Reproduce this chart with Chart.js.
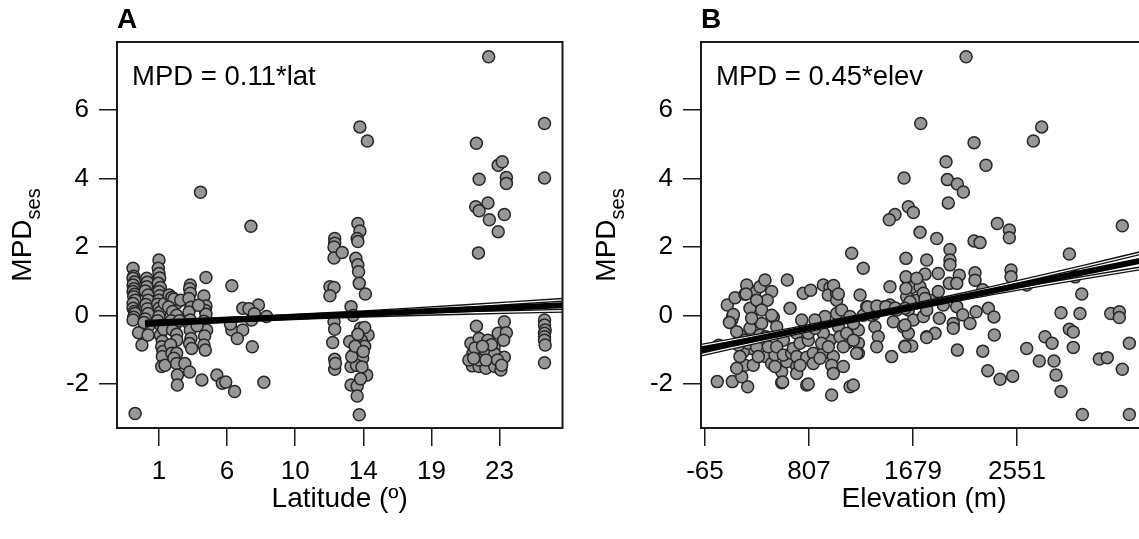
<!DOCTYPE html>
<html>
<head>
<meta charset="utf-8">
<script src="https://cdn.jsdelivr.net/npm/chart.js@4.4.1/dist/chart.umd.min.js"></script>
<style>
  html, body { margin: 0; padding: 0; background: #fff; }
  #stage { position: relative; width: 1139px; height: 539px; overflow: hidden; }
  #stage canvas { position: absolute; top: 0; }
</style>
</head>
<body>
<div id="stage">
  <canvas id="chartA" width="570" height="539" style="left:0"></canvas>
  <canvas id="chartB" width="580" height="539" style="left:580px"></canvas>
</div>
<script>
// tick labels
const mpdTicks = [-2, 0, 2, 4, 6];
const latTicks = [1, 6, 10, 14, 19, 23];     // drawn at equal spacing (positions 0..5)
const elevTicks = [-65, 807, 1679, 2551];

// panel A: [latitude position, MPDses]
const latPoints = [
  [-0.38,1.38],[-0.37,1.15],[-0.38,1.09],[-0.36,0.98],[-0.38,0.89],[-0.37,0.78],[-0.38,0.7],[-0.36,0.62],
  [-0.37,0.55],[-0.35,0.45],[-0.38,0.35],[-0.38,0.21],[-0.36,0.12],[-0.35,0.06],[-0.37,-0.05],[-0.38,-0.13],
  [-0.35,-2.86],[-0.3,-0.5],[-0.25,-0.86],
  [-0.18,1.09],[-0.17,0.97],[-0.18,0.84],[-0.2,0.72],[-0.16,0.6],[-0.16,0.45],[-0.19,0.32],[-0.17,0.2],
  [-0.16,0.06],[-0.2,-0.1],[-0.15,-0.3],[-0.16,-0.57],[-0.22,-0.2],
  [0.0,1.62],[-0.01,1.38],[0.0,1.23],[0.01,1.1],[-0.01,0.94],[0.02,0.82],[0.0,0.7],[0.01,0.58],[0.0,0.45],
  [-0.02,0.33],[0.0,0.21],[0.02,0.1],[0.0,-0.03],[-0.02,-0.15],[0.03,-0.3],[0.02,-0.57],[0.05,-0.75],
  [0.04,-0.91],[0.06,-1.05],[0.05,-1.2],[0.04,-1.49],[0.09,-1.45],[0.07,-0.4],[0.08,0.35],
  [0.15,0.6],[0.19,0.53],[0.26,0.36],[0.22,0.48],[0.14,0.25],[0.2,0.12],[0.26,0.01],[0.18,-0.15],
  [0.24,-0.27],[0.2,-0.42],[0.26,-0.55],[0.26,-0.72],[0.17,-0.85],[0.19,-1.1],[0.26,-1.1],[0.22,-1.25],
  [0.26,-1.4],[0.27,-1.74],[0.27,-2.03],[0.38,-1.4],[0.45,-1.65],[0.63,-1.88],[0.3,-0.15],[0.32,0.45],
  [0.46,0.89],[0.45,0.78],[0.46,0.65],[0.44,0.5],[0.47,0.24],[0.44,0.1],[0.46,-0.13],[0.45,-0.27],
  [0.46,-0.42],[0.47,-0.67],[0.45,-0.82],[0.48,-0.96],[0.69,1.11],[0.66,0.57],[0.69,0.28],[0.68,0.15],
  [0.69,0.04],[0.66,-0.17],[0.7,-0.42],[0.67,-0.6],[0.66,-0.86],[0.68,-1.01],[0.61,3.6],[0.56,-0.3],[0.58,0.3],
  [1.07,0.87],[1.23,0.21],[1.46,0.31],[1.58,-0.03],[1.07,-0.42],[1.23,-0.42],[1.15,-0.67],[1.36,-0.13],
  [1.37,-0.91],[1.05,-0.25],[1.32,0.2],[0.85,-1.74],[0.93,-1.98],[0.98,-1.94],[1.11,-2.22],[1.54,-1.95],
  [1.35,2.61],[1.4,0.05],
  [2.58,2.25],[2.58,2.11],[2.57,2.0],[2.57,1.68],[2.69,1.84],[2.51,0.84],[2.57,0.82],[2.51,0.58],
  [2.57,-0.18],[2.58,-0.4],[2.55,-0.79],[2.58,-1.28],[2.58,-1.57],[2.59,-1.4],
  [2.95,5.51],[3.06,5.1],[2.92,2.69],[2.95,2.47],[2.91,2.25],[2.92,2.16],[2.89,1.67],[2.92,1.48],
  [2.93,1.28],[2.94,0.94],[3.03,0.63],[2.82,0.26],[2.85,0.0],[2.96,-0.37],[3.07,-0.57],[2.8,-0.76],
  [2.97,-0.72],[3.02,-0.9],[2.87,-1.1],[2.99,-1.25],[2.82,-1.49],[2.9,-1.45],[3.05,-1.74],[2.82,-2.03],
  [2.91,-2.06],[2.91,-2.35],[2.94,-2.9],[2.83,-1.2],[2.98,-1.5],[3.02,-0.35],[2.92,-0.55],[2.88,-0.9],
  [3.0,-1.05],[2.96,-1.85],
  [4.84,7.56],[4.66,5.03],[4.7,3.98],[4.65,3.18],[4.7,3.06],[4.83,3.29],[4.85,2.8],[4.98,4.39],
  [5.04,4.49],[5.1,4.03],[5.1,3.86],[5.07,2.95],[4.98,2.45],[4.69,1.83],[5.66,5.61],[5.66,4.02],
  [4.66,-0.31],[5.07,-0.18],[4.98,-0.52],[5.1,-0.5],[4.58,-0.81],[4.7,-0.67],[4.83,-0.72],[4.92,-0.92],
  [5.06,-0.72],[4.61,-1.1],[4.7,-1.03],[4.8,-1.08],[4.93,-1.12],[5.07,-1.22],[4.6,-1.47],[4.7,-1.49],
  [4.8,-1.54],[4.93,-1.49],[5.02,-1.59],[4.55,-1.3],[4.7,-1.3],[4.8,-1.3],[4.97,-1.3],[4.64,-0.95],
  [4.88,-0.85],[5.03,-1.45],[4.75,-0.9],[4.62,-1.25],
  [5.66,-0.13],[5.66,-0.28],[5.67,-0.42],[5.66,-0.52],[5.66,-0.62],[5.66,-0.72],[5.67,-0.86],[5.66,-1.38]
];
const latFit = [[-0.205,-0.23],[5.924,0.30]];
const latUpper = [[-0.205,-0.18],[1.5,-0.048],[3,0.097],[4.5,0.277],[5.924,0.46]];
const latLower = [[-0.205,-0.28],[1.5,-0.118],[3,-0.003],[4.5,0.077],[5.924,0.14]];

// panel B: [elevation m, MPDses]
const elevPoints = [
  [38,-1.93],[164,-1.93],[293,-2.08],[243,-1.79],[270,-1.45],[340,-1.45],[122,0.31],[187,0.52],[167,-0.03],
  [270,0.62],[354,0.7],[396,0.84],[438,1.04],[494,0.7],[457,0.45],[312,0.21],[508,-0.05],[410,-0.23],
  [312,-0.37],[228,-0.57],[270,-0.72],[326,-0.96],[256,-1.06],[215,-0.86],[396,-0.57],[445,-0.62],
  [592,-0.72],[446,-1.2],[494,-1.4],[578,-1.64],[522,-1.15],[620,-1.35],[578,-1.96],
  [159,-0.13],[201,-0.47],[298,-0.81],[368,-0.91],[382,-1.2],[228,-1.2],[201,-1.54],[285,0.89],[368,0.45],
  [326,-0.08],[410,0.16],[494,0.01],[536,-0.33],[466,-0.91],[536,-0.91],[592,-1.15],[662,-1.1],[704,-1.49],
  [704,-1.69],[522,-1.49],[173,0.03],[280,0.63],[50,-0.87],[140,-0.2],
  [625,1.04],[648,0.21],[759,0.65],[821,0.74],[746,-0.13],[704,-0.52],[676,-0.96],[704,-1.2],[788,-1.22],
  [788,-2.03],[732,-1.45],[843,-1.1],[927,0.89],[983,0.82],[969,0.6],[1039,0.65],[941,-0.03],[1039,0.06],
  [1053,-0.33],[983,-0.72],[927,-0.52],[927,-1.1],[843,-1.4],[1011,-1.2],[997,-1.45],[1095,-1.49],
  [1011,-1.69],[997,-2.32],[1151,-2.08],[1179,-2.03],[1165,1.82],[1262,1.38],[1235,0.6],[1291,0.26],
  [1221,-0.42],[1123,-0.81],[1221,-0.81],[1221,-1.1],
  [732,-0.81],[801,-0.72],[801,-0.52],[857,-0.37],[857,-0.13],[913,-0.81],[969,-0.91],[1067,-0.62],
  [1095,-0.91],[1123,-0.52],[1179,-0.72],[1207,-1.1],[899,-1.25],[1039,0.45],[1081,0.16],[1151,-0.03],
  [1179,-0.23],[1262,0.01],[800,-2.0],[586,-1.94],[1013,0.88],[1053,0.63],
  [1360,-0.33],[1388,-0.62],[1375,-0.91],[1444,0.26],[1486,0.31],[1514,-0.18],[1486,0.84],[1500,-1.2],
  [1612,-0.89],[1668,-0.89],[1620,1.67],[1626,1.09],[1668,0.82],[1626,0.55],[1640,0.16],[1682,-0.13],
  [1794,1.62],[1780,1.21],[1738,0.84],[1822,0.45],[1794,-0.62],[1864,-0.52],[1878,2.25],[1738,2.43],
  [1528,2.95],[1480,2.8],[1640,3.18],[1682,3.01],
  [1333,0.01],[1360,0.06],[1542,0.16],[1598,-0.33],[1640,-0.52],[1766,-0.03],[1794,0.16],[1710,0.45],
  [1766,0.65],[1300,0.25],[1376,0.28],[1452,0.26],[1530,0.22],[1604,4.02],[1744,5.61],
  [2124,7.56],[2191,5.05],[2758,5.51],[2688,5.1],[1956,4.49],[2291,4.39],[1967,3.97],[2051,3.84],
  [2101,3.61],[1975,3.29],[2386,2.69],[2487,2.5],[2487,2.27],[2191,2.18],[2241,2.13],[3434,2.62],
  [2990,1.8],[1989,1.93],[1989,1.62],[1989,1.48],[1620,1.13],[1710,1.09],[1891,1.23],[2067,1.18],
  [2199,1.25],[2199,1.03],[2501,1.33],[2501,1.13],[1620,0.79],[1984,0.94],[2046,0.94],[1891,0.7],
  [2632,0.89],[3038,1.13],[3094,0.63],[1654,0.4],[1780,0.5],[1933,0.31],[2264,0.75],[2046,0.26],
  [1612,0.21],[2920,0.08],[3079,0.06],[3337,0.06],[3409,0.11],[3409,-0.06],[3493,-0.81],[1900,-0.08],
  [2096,0.02],[2208,0.11],[2311,0.21],[2358,-0.04],[1612,-0.28],[2017,-0.23],[2017,-0.37],[2157,-0.23],
  [1794,-0.64],[1612,-0.91],[2051,-1.01],[2264,-1.04],[2361,-0.57],[2306,-1.61],[2409,-1.86],[2515,-1.77],
  [2632,-0.96],[2738,-1.33],[2786,-0.62],[2845,-0.81],[2861,-1.33],[2878,-1.74],[2920,-2.22],[2990,-0.4],
  [3023,-0.48],[3023,-0.93],[3099,-2.89],[3241,-1.27],[3308,-1.23],[3434,-1.57],[3493,-2.89]
];
const elevFit = [[-98.5,-1.01],[3641,1.64]];
const elevUpper = [[-98.5,-0.88],[700,-0.375],[1500,0.18],[2300,0.78],[3100,1.42],[3641,1.87]];
const elevLower = [[-98.5,-1.14],[700,-0.515],[1500,0.08],[2300,0.62],[3100,1.10],[3641,1.41]];

const FONT = '"Liberation Sans", Arial, sans-serif';
const xy = arr => arr.map(p => ({ x: p[0], y: p[1] }));

const panelText = {
  id: 'panelText',
  afterDraw(chart, args, o) {
    const { ctx, chartArea: a } = chart;
    ctx.save();
    ctx.strokeStyle = '#1a1a1a';
    ctx.lineWidth = 2;
    ctx.strokeRect(a.left, a.top, a.right - a.left, a.bottom - a.top);

    ctx.fillStyle = '#000';
    ctx.textBaseline = 'alphabetic';
    ctx.textAlign = 'left';
    ctx.font = 'bold 28px ' + FONT;
    ctx.fillText(o.letter, a.left, 28);
    ctx.font = '27.5px ' + FONT;
    ctx.fillText(o.equation, a.left + 15, 85);

    ctx.font = '28px ' + FONT;
    ctx.textAlign = 'center';
    ctx.fillText(o.xTitle, (a.left + a.right) / 2, 507);

    // y title with subscript
    ctx.translate(a.left - 86, (a.top + a.bottom) / 2);
    ctx.rotate(-Math.PI / 2);
    ctx.textAlign = 'left';
    const big = '28px ' + FONT, small = '20px ' + FONT;
    ctx.font = big;
    const w1 = ctx.measureText('MPD').width;
    ctx.font = small;
    const w2 = ctx.measureText('ses').width;
    const x0 = -(w1 + w2) / 2;
    ctx.font = big;
    ctx.fillText('MPD', x0, 0);
    ctx.font = small;
    ctx.fillText('ses', x0 + w1, 9);
    ctx.restore();
  }
};

function makePanel(id, opt) {
  const lineSet = (data, color, width, order) => ({
    type: 'line', data: xy(data), showLine: true, borderColor: color, borderWidth: width,
    pointRadius: 0, fill: false, tension: 0.3, order
  });
  new Chart(document.getElementById(id), {
    type: 'scatter',
    data: {
      datasets: [
        lineSet(opt.fit, '#000', 6, 0),
        lineSet(opt.upper, '#fff', 1.3, 1),
        lineSet(opt.lower, '#fff', 1.3, 1),
        lineSet(opt.upper, '#111', 4, 2),
        lineSet(opt.lower, '#111', 4, 2),
        {
          data: xy(opt.points), order: 5,
          pointRadius: 6, pointBackgroundColor: '#979797',
          pointBorderColor: '#262626', pointBorderWidth: 1.5
        }
      ]
    },
    options: {
      responsive: false,
      animation: false,
      devicePixelRatio: 1,
      events: [],
      layout: { padding: { left: 0, right: opt.padRight, top: 42, bottom: 0 } },
      plugins: {
        legend: { display: false },
        tooltip: { enabled: false },
        panelText: { letter: opt.letter, equation: opt.equation, xTitle: opt.xTitle }
      },
      scales: {
        x: {
          type: 'linear', min: opt.xMin, max: opt.xMax,
          afterBuildTicks: ax => { ax.ticks = opt.xTickVals.map(v => ({ value: v })); },
          afterFit: s => { s.height = 111; },
          ticks: {
            callback: (v, i) => opt.xTickLabels[i],
            autoSkip: false, maxRotation: 0, padding: 10,
            color: '#000', font: { family: FONT, size: 26 }
          },
          grid: { drawOnChartArea: false, tickLength: 18, color: '#1a1a1a', lineWidth: 1.5 },
          border: { display: false }
        },
        y: {
          min: -3.285, max: 7.99,
          afterBuildTicks: ax => { ax.ticks = mpdTicks.map(v => ({ value: v })); },
          afterFit: s => { s.width = opt.leftW; },
          ticks: { padding: 10, color: '#000', font: { family: FONT, size: 26 } },
          grid: { drawOnChartArea: false, tickLength: 18, color: '#1a1a1a', lineWidth: 1.5 },
          border: { display: false }
        }
      }
    },
    plugins: [panelText]
  });
}

makePanel('chartA', {
  points: latPoints, fit: latFit, upper: latUpper, lower: latLower,
  xMin: -0.616, xMax: 5.924,
  xTickVals: latTicks.map((t, i) => i), xTickLabels: latTicks,
  leftW: 117, padRight: 7,
  letter: 'A', equation: 'MPD = 0.11*lat', xTitle: 'Latitude (º)'
});

makePanel('chartB', {
  points: elevPoints, fit: elevFit, upper: elevUpper, lower: elevLower,
  xMin: -98.5, xMax: 3641,
  xTickVals: elevTicks, xTickLabels: elevTicks,
  leftW: 121, padRight: 13,
  letter: 'B', equation: 'MPD = 0.45*elev', xTitle: 'Elevation (m)'
});
</script>
</body>
</html>
